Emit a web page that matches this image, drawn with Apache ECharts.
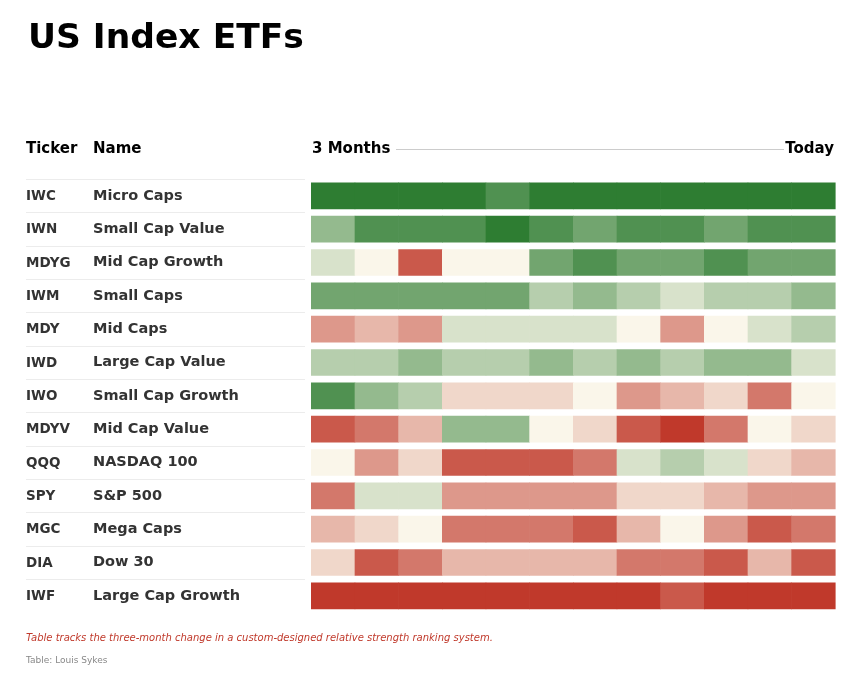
<!DOCTYPE html>
<html>
<head>
<meta charset="utf-8">
<script src="https://cdn.jsdelivr.net/npm/echarts@6/dist/echarts.min.js"></script>
<style>html,body{margin:0;padding:0;background:#fff}#c{width:860px;height:674px}</style>
</head>
<body>
<div id="c"></div>
<script>
// ---- data ----
const tickers = ['IWC','IWN','MDYG','IWM','MDY','IWD','IWO','MDYV','QQQ','SPY','MGC','DIA','IWF'];
const names = ['Micro Caps','Small Cap Value','Mid Cap Growth','Small Caps','Mid Caps','Large Cap Value','Small Cap Growth','Mid Cap Value','NASDAQ 100','S&P 500','Mega Caps','Dow 30','Large Cap Growth'];
const periods = ['W1','W2','W3','W4','W5','W6','W7','W8','W9','W10','W11','W12'];
const IWC  = [6,6,6,6,5,6,6,6,6,6,6,6];
const IWN  = [3,5,5,5,6,5,4,5,5,4,5,5];
const MDYG = [1,0,-5,0,0,4,5,4,4,5,4,4];
const IWM  = [4,4,4,4,4,2,3,2,1,2,2,3];
const MDY  = [-3,-2,-3,1,1,1,1,0,-3,0,1,2];
const IWD  = [2,2,3,2,2,3,2,3,2,3,3,1];
const IWO  = [5,3,2,-1,-1,-1,0,-3,-2,-1,-4,0];
const MDYV = [-5,-4,-2,3,3,0,-1,-5,-6,-4,0,-1];
const QQQ  = [0,-3,-1,-5,-5,-5,-4,1,2,1,-1,-2];
const SPY  = [-4,1,1,-3,-3,-3,-3,-1,-1,-2,-3,-3];
const MGC  = [-2,-1,0,-4,-4,-4,-5,-2,0,-3,-5,-4];
const DIA  = [-1,-5,-4,-2,-2,-2,-2,-4,-4,-5,-2,-5];
const IWF  = [-6,-6,-6,-6,-6,-6,-6,-6,-5,-6,-6,-6];
const rows = [IWC,IWN,MDYG,IWM,MDY,IWD,IWO,MDYV,QQQ,SPY,MGC,DIA,IWF];

const cells = [];
rows.forEach((r, yi) => r.forEach((v, xi) => cells.push([xi, yi, v])));

const FONT = 'DejaVu Sans';
const TOP = 179.2, H = 433.3;
const chart = echarts.init(document.getElementById('c'), null, {renderer: 'canvas'});
chart.setOption({
  backgroundColor: '#ffffff',
  animation: false,
  textStyle: {fontFamily: FONT},
  title: [{
    text: 'US Index ETFs', left: 23, top: 17,
    textStyle: {fontFamily: FONT, fontSize: 34.5, fontWeight: 'bold', color: '#000'}
  }],
  grid: [
    {left: 311, right: 25, top: TOP, height: H},
    {left: 26, width: 279, top: TOP, height: H}
  ],
  xAxis: [
    {gridIndex: 0, type: 'category', data: periods, show: false},
    {gridIndex: 1, type: 'value', show: false}
  ],
  yAxis: [
    {gridIndex: 0, type: 'category', data: tickers, inverse: true, show: false},
    {gridIndex: 1, type: 'category', data: tickers, inverse: true,
     axisLine: {show: false}, axisTick: {show: false},
     splitLine: {show: true, showMaxLine: false, lineStyle: {color: '#ececec', width: 1}},
     axisLabel: {
       inside: true, margin: 0, align: 'left', verticalAlign: 'middle',
       formatter: (v, i) => '{t|' + v + '}{n|' + names[i] + '}',
       rich: {
         t: {width: 67, fontFamily: FONT, fontSize: 13.5, fontWeight: 'bold', color: '#333', lineHeight: 20, verticalAlign: 'middle', padding: [1, 0, 0, 0]},
         n: {fontFamily: FONT, fontSize: 14.5, fontWeight: 'bold', color: '#333', lineHeight: 20, verticalAlign: 'middle'}
       }
     }}
  ],
  visualMap: {
    show: false, type: 'continuous', dimension: 2, min: -6, max: 6, seriesIndex: 0,
    inRange: {color: ['#c0392b', '#faf6ea', '#2e7d32']}
  },
  series: [{
    type: 'custom', xAxisIndex: 0, yAxisIndex: 0, data: cells,
    renderItem: function (params, api) {
      const p = api.coord([api.value(0), api.value(1)]);
      const s = api.size([1, 1]);
      const h = s[1] * 0.8;
      return {
        type: 'rect',
        shape: {x: p[0] - s[0] / 2, y: p[1] - h / 2, width: s[0] + 0.6, height: h},
        style: {fill: api.visual('color')}
      };
    }
  }],
  graphic: [
    {type: 'text', left: 26, top: 142, style: {text: 'Ticker', font: 'bold 15px "DejaVu Sans"', fill: '#000'}},
    {type: 'text', left: 93, top: 142, style: {text: 'Name', font: 'bold 15px "DejaVu Sans"', fill: '#000'}},
    {type: 'text', left: 312, top: 142, style: {text: '3 Months', font: 'bold 15px "DejaVu Sans"', fill: '#000'}},
    {type: 'text', right: 26, top: 142, style: {text: 'Today', font: 'bold 15px "DejaVu Sans"', fill: '#000'}},
    {type: 'line', shape: {x1: 396, y1: 149.5, x2: 784, y2: 149.5}, style: {stroke: '#cccccc', lineWidth: 1}},
    {type: 'text', left: 26, top: 633, style: {text: 'Table tracks the three-month change in a custom-designed relative strength ranking system.', font: 'italic 10px "DejaVu Sans"', fill: '#c0392b'}},
    {type: 'text', left: 26, top: 656, style: {text: 'Table: Louis Sykes', font: '9px "DejaVu Sans"', fill: '#888888'}}
  ]
});
</script>
</body>
</html>
